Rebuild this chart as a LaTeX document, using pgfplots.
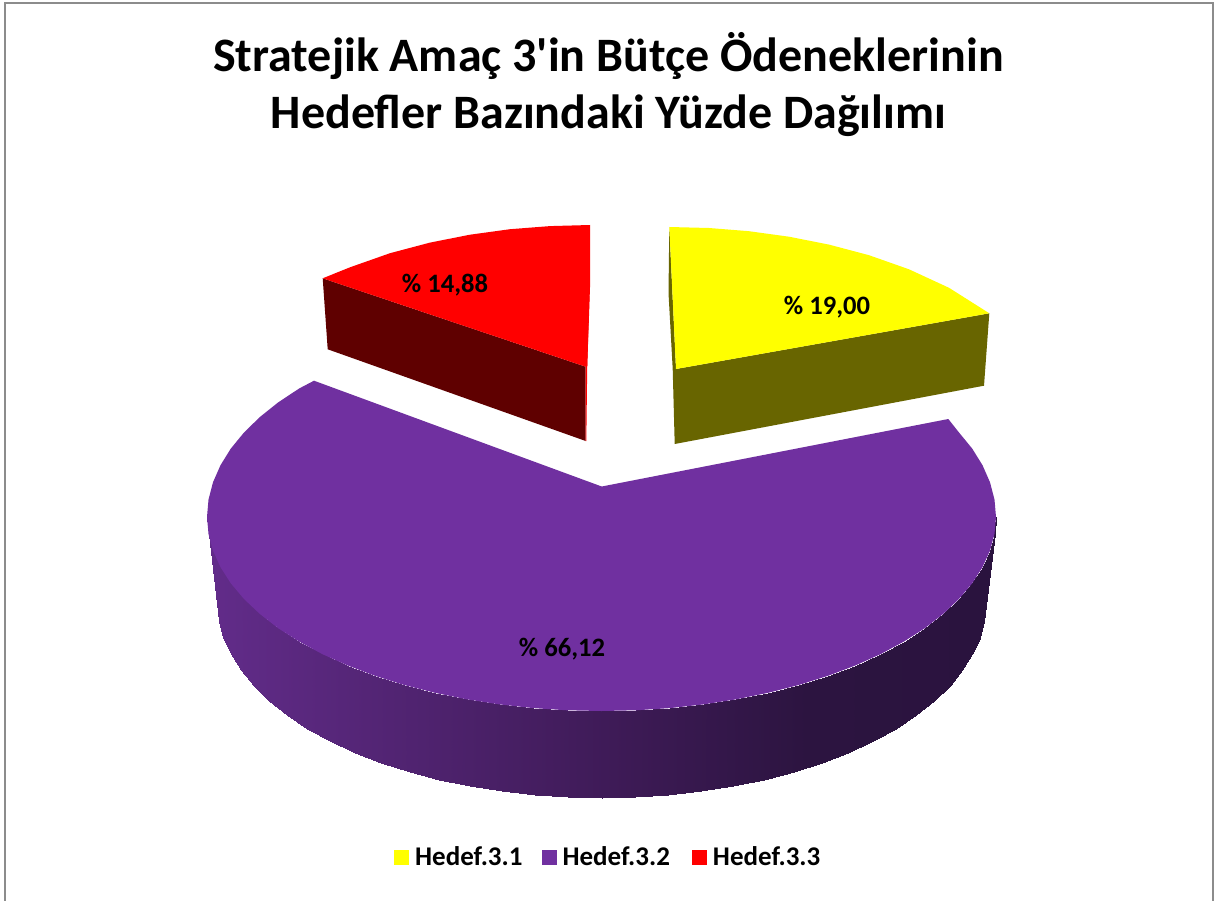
\documentclass[border=0pt]{standalone}
\usepackage{fontspec}
\setmainfont{Carlito}[Ligatures=TeXOff]
\usepackage{pgfplots}
\pgfplotsset{compat=1.18}
\definecolor{pyellow}{HTML}{FFFF00}
\definecolor{ppurple}{HTML}{7030A0}
\definecolor{pred}{HTML}{FF0000}
\definecolor{dyellow}{HTML}{686500}
\definecolor{dred}{HTML}{5F0000}
\definecolor{frame}{HTML}{8C8C8C}
\begin{document}
\begin{tikzpicture}
\useasboundingbox (0,0) rectangle (1214pt,901pt);
\begin{axis}[
  at={(0,0)},anchor=south west,
  width=1214pt,height=901pt,scale only axis,
  xmin=0,xmax=1214,ymin=0,ymax=901,y dir=reverse,
  hide axis,
  colormap={pieside}{rgb255(0)=(98,44,138); rgb255(397)=(63,27,88); rgb255(600)=(44,20,64); rgb255(789)=(42,19,62)},
  legend columns=3,
  legend cell align=left,
  legend image code/.code={\fill[#1] (0pt,-7.5pt) rectangle (15pt,7.5pt);},
  legend style={at={(axis cs:394,857)},anchor=west,draw=none,fill=none,font=\fontsize{27}{29}\selectfont\bfseries,
    /tikz/every odd column/.style={column sep=4pt},
    /tikz/column 2/.style={column sep=17pt},
    /tikz/column 4/.style={column sep=20pt},inner xsep=0pt,inner ysep=0pt},
]
% frame
\addplot[frame,line width=2.4pt,forget plot] coordinates {(5,901) (5,3) (1213,3) (1213,901)};
% side of the large slice
\addplot[surf,shader=interp,mesh/cols=37,point meta=x,point meta min=207,point meta max=996,forget plot] table {
x y
207 517
208.5 533.9
213 550.7
220.5 567.2
230.8 583.3
244 599
259.9 614
278.3 628.3
299.3 641.7
322.5 654.2
347.9 665.6
375.2 675.9
404.2 685
434.8 692.8
466.6 699.3
499.4 704.4
533 708.1
567.1 710.3
601.5 711
635.9 710.3
670 708.1
703.6 704.4
736.4 699.3
768.2 692.8
798.8 685
827.8 675.9
855.1 665.6
880.5 654.2
903.7 641.7
924.7 628.3
943.1 614
959 599
972.2 583.3
982.5 567.2
990 550.7
994.5 533.9
996 517

217.5 604
219 620.9
223.3 637.7
230.6 654.2
240.7 670.3
253.5 686
268.9 701
286.9 715.3
307.3 728.7
330 741.2
354.7 752.6
381.2 762.9
409.5 772
439.2 779.8
470.2 786.3
502.1 791.4
534.8 795.1
568 797.3
601.5 798
635 797.3
668.2 795.1
700.9 791.4
732.8 786.3
763.8 779.8
793.5 772
821.8 762.9
848.3 752.6
873 741.2
895.7 728.7
916.1 715.3
934.1 701
949.5 686
962.3 670.3
972.4 654.2
979.7 637.7
984 620.9
985.5 604
};
% side faces of the two small slices
\addplot[fill=dyellow,draw=none,forget plot] coordinates {(669.3,227) (668.5,293) (672.7,369) (674.7,444) (984,385.7) (989.3,313.3) (676,369)} -- cycle;
\addplot[fill=dred,draw=none,forget plot] coordinates {(322.7,278.3) (327.7,349.3) (585.7,441) (585.7,366.7)} -- cycle;
\addplot[fill=pred,draw=none,forget plot] coordinates {(589.7,287) (587.2,367) (586.3,441) (585.5,441) (585.7,366.7)} -- cycle;
% top faces
\addplot[fill=pyellow,draw=none] coordinates {(669.3,227) (709,228) (749,231.2) (789,236.7) (829,244.6) (869,255.2) (909,269.3) (949,287.8) (989.3,313.3) (676,369)} -- cycle;
\addlegendentry{Hedef.3.1}
\addplot[fill=ppurple,draw=none] coordinates {(601.7,486.5) (948.3,419) (959,432.5) (972.2,448.6) (982.5,465.2) (990,482.3) (994.5,499.6) (996,517)
(994.5,533.9) (990,550.7) (982.5,567.2) (972.2,583.3) (959,599) (943.1,614) (924.7,628.3) (903.7,641.7) (880.5,654.2) (855.1,665.6) (827.8,675.9) (798.8,685) (768.2,692.8) (736.4,699.3) (703.6,704.4) (670,708.1) (635.9,710.3) (601.5,711)
(567.1,710.3) (533,708.1) (499.4,704.4) (466.6,699.3) (434.8,692.8) (404.2,685) (375.2,675.9) (347.9,665.6) (322.5,654.2) (299.3,641.7) (278.3,628.3) (259.9,614) (244,599) (230.8,583.3) (220.5,567.2) (213,550.7) (208.5,533.9) (207,517)
(208.5,499.6) (213,482.3) (220.5,465.2) (230.8,448.6) (244,432.5) (259.9,417) (278.3,402.3) (299.3,388.4) (314,380.7)} -- cycle;
\addlegendentry{Hedef.3.2}
\addplot[fill=pred,draw=none] coordinates {(590,225) (550,226.1) (510,229.2) (470,234.7) (430,242.6) (390,253.2) (350,267.3) (322.7,278.3) (585.7,366.7) (587.2,367) (590,287)} -- cycle;
\addlegendentry{Hedef.3.3}
% title and data labels
\node[align=center,font=\fontsize{48}{57}\selectfont\bfseries] at (axis cs:608.5,85) {Stratejik Amaç 3'in Bütçe Ödeneklerinin\\Hedefler Bazındaki Yüzde Dağılımı};
\node[font=\fontsize{26.6}{28}\selectfont\bfseries] at (axis cs:827,307) {\% 19,00};
\node[font=\fontsize{26.6}{28}\selectfont\bfseries] at (axis cs:445,285.5) {\% 14,88};
\node[font=\fontsize{26.6}{28}\selectfont\bfseries] at (axis cs:562,649.5) {\% 66,12};
\end{axis}
\end{tikzpicture}
\end{document}
